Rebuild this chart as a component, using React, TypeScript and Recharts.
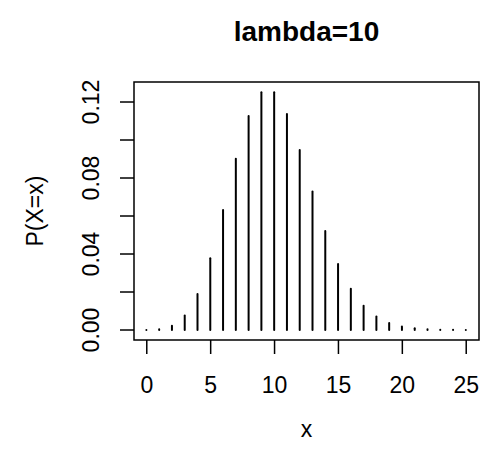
import { ComposedChart, Bar, XAxis, YAxis, ReferenceArea } from 'recharts'

const xs = [0, 1, 2, 3, 4, 5, 6, 7, 8, 9, 10, 11, 12, 13, 14, 15, 16, 17, 18, 19, 20, 21, 22, 23, 24, 25]
const probs = [
  0.00005, 0.00045, 0.0023, 0.0076, 0.0189, 0.0378, 0.0631, 0.0901, 0.1126, 0.1251,
  0.1251, 0.1137, 0.0948, 0.0729, 0.0521, 0.0347, 0.0217, 0.0128, 0.0071, 0.0037,
  0.0019, 0.0009, 0.0004, 0.0002, 0.0001, 0.00003,
]
const xTicks = [0, 5, 10, 15, 20, 25]
const yTicks = [0, 0.02, 0.04, 0.06, 0.08, 0.1, 0.12]
const yLabels = ['0.00', '', '0.04', '', '0.08', '', '0.12']

const data = xs.map((x, i) => ({ x, p: probs[i] }))

const FONT = '"Liberation Sans", Arial, sans-serif'

const XTick = ({ x, y, payload }: any) => (
  <text x={x} y={y + 29} textAnchor="middle" dominantBaseline="central" fontSize={23} fontFamily={FONT} fill="#000">
    {payload.value}
  </text>
)

const YTick = ({ x, y, index }: any) => {
  const label = yLabels[index]
  if (!label) return null
  return (
    <text
      x={x - 27}
      y={y}
      transform={`rotate(-90, ${x - 27}, ${y})`}
      textAnchor="middle"
      dominantBaseline="central"
      fontSize={23}
      fontFamily={FONT}
      fill="#000"
    >
      {label}
    </text>
  )
}

const Spike = ({ x, y, width, height }: any) => {
  const cx = x + width / 2
  return <line x1={cx} x2={cx} y1={y} y2={y + height} stroke="#000" strokeWidth={2} strokeLinecap="round" />
}

export default function App() {
  return (
    <div style={{ position: 'absolute', left: 0, top: 0, width: 482, height: 454, background: '#fff' }}>
      <ComposedChart width={482} height={454} data={data} margin={{ top: 82, right: 3, bottom: 0, left: 0 }}>
        <XAxis
          dataKey="x"
          type="number"
          domain={[-1, 26]}
          ticks={xTicks}
          allowDataOverflow
          height={114}
          tickSize={14}
          tick={<XTick />}
          axisLine={false}
          tickLine={{ stroke: '#000', strokeWidth: 1.5 }}
        />
        <YAxis
          type="number"
          domain={[-0.00526, 0.13053]}
          ticks={yTicks}
          allowDataOverflow
          width={134}
          tickSize={14}
          tick={<YTick />}
          axisLine={false}
          tickLine={{ stroke: '#000', strokeWidth: 1.5 }}
        />
        <ReferenceArea x1={-1} x2={26} y1={-0.00526} y2={0.13053} fill="none" stroke="#000" strokeWidth={1.5} ifOverflow="visible" />
        <Bar dataKey="p" barSize={2} shape={<Spike />} isAnimationActive={false} />
      </ComposedChart>
      <div style={{ position: 'absolute', left: 134, width: 345, top: 14, textAlign: 'center', fontFamily: FONT, fontWeight: 'bold', fontSize: 28, lineHeight: '36px' }}>
        lambda=10
      </div>
      <div style={{ position: 'absolute', left: 134, width: 345, top: 414, textAlign: 'center', fontFamily: FONT, fontSize: 23, lineHeight: '30px' }}>
        x
      </div>
      <div
        style={{
          position: 'absolute',
          left: 35 - 100,
          top: 211 - 15,
          width: 200,
          height: 30,
          lineHeight: '30px',
          textAlign: 'center',
          fontFamily: FONT,
          fontSize: 23,
          transform: 'rotate(-90deg)',
        }}
      >
        P(X=x)
      </div>
    </div>
  )
}
